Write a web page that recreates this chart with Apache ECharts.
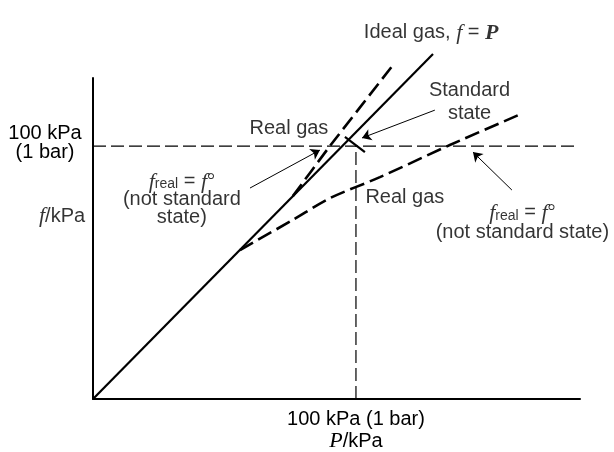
<!DOCTYPE html>
<html>
<head>
<meta charset="utf-8">
<script src="https://cdn.jsdelivr.net/npm/echarts@6/dist/echarts.min.js"></script>
<style>
  html, body { margin: 0; padding: 0; background: #fff; }
  #chart { width: 614px; height: 452px; }
</style>
</head>
<body>
<div id="chart"></div>
<script>
// Fugacity f versus pressure P (both in kPa)
const idealGas = [[0, 0], [129.3, 136.4]];
const realGasUpper = [[76, 80.2], [90.1, 100], [114.1, 132]];
const realGasLower = [[55.9, 58.9], [76, 70.8], [90.1, 79.4], [109.1, 87.7], [135.7, 100.4], [163.5, 113]];
const standardP = 100;
const standardF = 100;
const referenceEnd = 183.3;
const standardStateTick = [[95.8, 103.6], [103.4, 97.6]];
const xTicks = [100];
const yTicks = [100];

// Leader arrows: [from, to] in (P, f)
const arrowLinks = [
  [[130.0, 114.2], [102.3, 103.2]],
  [[59.7, 83.4], [86.3, 98.4]],
  [[159.3, 82.6], [144.5, 97.6]]
];

// Annotation anchors in (P, f)
const noteAnchors = {
  ideal: [103.0, 144.7],
  realUpper: [74.5, 107.1],
  standard: [143.2, 117.6],
  leftNote: [33.8, 78.7],
  realLower: [118.6, 79.8],
  rightNote: [163.3, 69.6],
  yName: [-3.0, 72.3]
};

const INK = '#000';
function rich(lh) {
  return {
    t: { fontFamily: 'Liberation Sans', fontSize: 20, color: INK, lineHeight: lh },
    m: { fontFamily: 'Liberation Serif', fontStyle: 'italic', fontSize: 22, color: INK, lineHeight: lh },
    mb: { fontFamily: 'Liberation Serif', fontStyle: 'italic', fontWeight: 'bold', fontSize: 22, color: INK, lineHeight: lh },
    d: { fontFamily: 'Liberation Serif', fontSize: 20, color: INK, lineHeight: lh },
    sub: { fontFamily: 'Liberation Sans', fontSize: 14, color: INK, verticalAlign: 'bottom', lineHeight: 10 }
  };
}

function note(pos, text, opts) {
  opts = opts || {};
  return {
    value: pos,
    label: {
      show: true,
      position: 'inside',
      align: opts.align || 'center',
      verticalAlign: 'middle',
      formatter: text,
      rich: rich(opts.lh || 20)
    }
  };
}

const fRealEq = '{m|f}{sub|real}{t| = }{m|f}{d|°}';

const notes = [
  note(noteAnchors.ideal, '{t|Ideal gas, }{m|f}{t| = }{mb|P}', { align: 'left' }),
  note(noteAnchors.realUpper, '{t|Real gas}'),
  note(noteAnchors.standard, '{t|Standard}\n{t|state}', { lh: 23 }),
  note(noteAnchors.leftNote, fRealEq + '\n{t|(not standard}\n{t|state)}', { lh: 18 }),
  note(noteAnchors.realLower, '{t|Real gas}'),
  note(noteAnchors.rightNote, fRealEq + '\n{t|(not standard state)}', { lh: 20 }),
  note(noteAnchors.yName, '{m|f}{t|/kPa}', { align: 'right' })
];

const chart = echarts.init(document.getElementById('chart'), null, { renderer: 'canvas' });

const axisCommon = {
  type: 'value',
  axisLine: { show: true, onZero: false, lineStyle: { color: '#000', width: 2 } },
  axisTick: { show: false },
  splitLine: { show: false }
};

chart.setOption({
  animation: false,
  backgroundColor: '#fff',
  grid: { left: 93, right: 34, top: 78, bottom: 53 },
  xAxis: Object.assign({}, axisCommon, {
    min: 0,
    max: 185.2,
    axisLabel: {
      customValues: xTicks,
      margin: 9,
      formatter: () => '{t|100 kPa (1 bar)}\n{m|P}{t|/kPa}',
      rich: rich(22)
    }
  }),
  yAxis: Object.assign({}, axisCommon, {
    min: 0,
    max: 126.9,
    axisLabel: {
      customValues: yTicks,
      margin: 48,
      align: 'center',
      padding: [0, 0, 7, 0],
      formatter: () => '{t|100 kPa}\n{t|(1 bar)}',
      rich: rich(19)
    }
  }),
  series: [
    {
      name: 'reference f',
      type: 'line',
      data: [[0, standardF], [referenceEnd, standardF]],
      symbol: 'none',
      clip: false,
      silent: true,
      lineStyle: { color: '#000', width: 1.2, type: [13, 5] }
    },
    {
      name: 'reference P',
      type: 'line',
      data: [[standardP, 0], [standardP, standardF]],
      symbol: 'none',
      clip: false,
      silent: true,
      lineStyle: { color: '#000', width: 1.2, type: [13, 5] }
    },
    {
      name: 'Ideal gas',
      type: 'line',
      data: idealGas,
      symbol: 'none',
      clip: false,
      silent: true,
      lineStyle: { color: '#000', width: 2.2 }
    },
    {
      name: 'Real gas (above)',
      type: 'line',
      data: realGasUpper,
      symbol: 'none',
      smooth: 0.2,
      clip: false,
      silent: true,
      lineStyle: { color: '#000', width: 2.6, type: [15, 6] }
    },
    {
      name: 'Real gas (below)',
      type: 'line',
      data: realGasLower,
      symbol: 'none',
      smooth: 0.3,
      clip: false,
      silent: true,
      lineStyle: { color: '#000', width: 2.6, type: [15, 6] }
    },
    {
      name: 'Standard state',
      type: 'line',
      data: standardStateTick,
      symbol: 'none',
      clip: false,
      silent: true,
      lineStyle: { color: '#000', width: 2.2 }
    },
    {
      name: 'leaders',
      type: 'lines',
      coordinateSystem: 'cartesian2d',
      silent: true,
      symbol: ['none', 'arrow'],
      symbolSize: 9,
      lineStyle: { color: '#000', width: 1, opacity: 1, curveness: 0 },
      data: arrowLinks.map(c => ({ coords: c }))
    },
    {
      name: 'notes',
      type: 'scatter',
      symbolSize: 0,
      clip: false,
      silent: true,
      data: notes
    }
  ]
});
</script>
</body>
</html>
